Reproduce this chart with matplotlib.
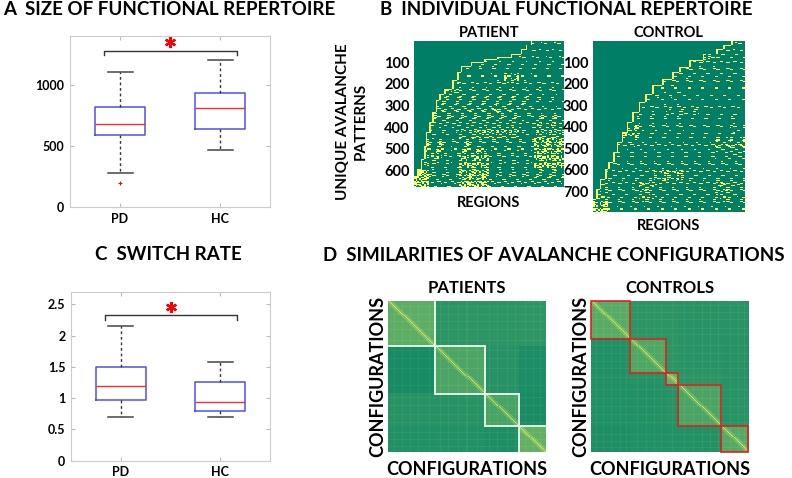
import numpy as np
import matplotlib
matplotlib.use('Agg')
import matplotlib.pyplot as plt
from matplotlib.patches import Rectangle

plt.rcParams['font.family'] = ['Lato', 'DejaVu Sans']
plt.rcParams['font.weight'] = 'bold'

W, H = 792, 478

# ---------------- data ----------------
groups = ['PD', 'HC']

# A: size of functional repertoire (box stats)
rep_med = [678, 809]
rep_q1 = [590, 639]
rep_q3 = [822, 937]
rep_lo = [279, 467]
rep_hi = [1109, 1205]
rep_fliers = [[197], []]

# C: switch rate
sw_med = [1.20, 0.93]
sw_q1 = [0.965, 0.80]
sw_q3 = [1.49, 1.25]
sw_lo = [0.70, 0.70]
sw_hi = [2.15, 1.58]

# B: individual repertoire, row where each region first becomes active (sorted patterns)
n_regions = 90
pat_rows = 677
con_rows = 796
pat_stair_col = [0, 2, 4, 6, 7, 9, 11, 13, 15, 18, 23, 26, 28, 34, 42, 50, 58, 64, 67, 70]
pat_stair_row = [625, 594, 548, 486, 425, 378, 332, 278, 248, 225, 186, 148, 120, 101, 89,
                 78, 63, 40, 21, 0]
con_stair_col = [0, 2, 4, 7, 9, 12, 14, 17, 20, 23, 27, 31, 35, 41, 47, 51, 57, 65, 73, 77, 82]
con_stair_row = [736, 689, 643, 597, 566, 519, 473, 427, 380, 334, 287, 249, 210, 179, 148,
                 125, 94, 63, 40, 25, 0]

# share of active regions below the staircase (rows: 50-pattern bins, cols: 9-region bins)
pat_density = [
    [0, 0, 0, 0, 0, 0, 0, .05, .05, .05],
    [0, 0, 0, .05, .05, .05, .05, .05, .05, .05],
    [0, 0, .07, .07, .08, .08, .07, .07, .07, .07],
    [0, 0, .07, .07, .07, .08, .3, .08, .07, .07],
    [0, .08, .2, .08, .08, .08, .08, .08, .08, .08],
    [0, .15, .15, .15, .15, .15, .15, .15, .08, .08],
    [.08, .15, .15, .15, .15, .22, .15, .1, .08, .08],
    [.08, .15, .15, .15, .15, .15, .15, .08, .2, .2],
    [.08, .08, .08, .2, .32, .32, .32, .08, .28, .28],
    [.22, .22, .08, .22, .1, .1, .1, .1, .38, .38],
    [.28, .28, .11, .28, .38, .11, .11, .11, .42, .42],
    [.22, .11, .11, .38, .38, .11, .11, .11, .42, .42],
    [.6, .11, .11, .38, .38, .11, .11, .11, .16, .16],
    [.5, .11, .11, .48, .48, .11, .11, .11, .11, .11],
]
con_density = [
    [0, 0, 0, 0, 0, 0, 0, 0, .05, .05],
    [0, 0, 0, 0, 0, 0, .06, .24, .06, .06],
    [0, 0, 0, 0, 0, .06, .06, .08, .06, .06],
    [0, 0, 0, 0, .06, .08, .08, .06, .06, .06],
    [0, 0, 0, .07, .08, .1, .07, .07, .07, .07],
    [0, 0, .07, .07, .08, .08, .07, .07, .07, .07],
    [0, 0, .08, .08, .08, .16, .16, .07, .07, .07],
    [0, .08, .08, .08, .08, .08, .07, .07, .07, .08],
    [0, .08, .32, .08, .08, .08, .07, .07, .07, .11],
    [.08, .08, .11, .08, .08, .08, .08, .08, .24, .24],
    [.08, .08, .08, .08, .08, .08, .08, .08, .11, .16],
    [.08, .08, .08, .08, .08, .08, .08, .08, .08, .08],
    [.08, .08, .08, .08, .26, .26, .08, .08, .08, .08],
    [.16, .08, .08, .24, .11, .08, .08, .08, .24, .16],
    [.24, .08, .08, .24, .11, .08, .08, .08, .24, .11],
    [.5, .08, .08, .08, .08, .08, .08, .08, .08, .08],
]

# D: similarity of avalanche configurations (mean level per block, row block x col block)
n_conf = 157
pat_blocks = [0, 47, 96, 130, 157]
pat_block_sim = [[.36, .17, .17, .18],
                 [.09, .30, .15, .11],
                 [.15, .15, .28, .10],
                 [.13, .14, .12, .38]]
pat_stripes = [6, 14, 22, 30, 41, 52, 60, 70, 78, 88, 100, 108, 118, 126, 136, 144, 151]
con_blocks = [0, 39, 75, 87, 130, 157]
con_block_sim = [[.34, .17, .17, .16, .16],
                 [.13, .31, .17, .16, .15],
                 [.14, .15, .38, .17, .15],
                 [.13, .14, .15, .29, .16],
                 [.12, .13, .14, .14, .33]]
con_stripes = [5, 12, 20, 29, 35, 46, 55, 63, 70, 80, 92, 101, 110, 118, 126, 138, 146, 152]
diag_sim = 0.8
near_diag_sim = 0.13

# hand-made 8x8 dither mask (and column shifts per mask row) to show densities as on/off cells
dither = [
    [0, 1, 40, 22, 50, 12, 13, 30],
    [44, 26, 8, 9, 10, 58, 36, 18],
    [16, 54, 34, 62, 4, 5, 24, 46],
    [31, 2, 3, 20, 42, 28, 52, 14],
    [48, 38, 60, 27, 33, 57, 6, 7],
    [23, 15, 37, 11, 45, 19, 41, 55],
    [53, 39, 17, 49, 29, 21, 61, 25],
    [35, 43, 59, 32, 51, 47, 63, 39],
]
dither_shift = [0, 5, 2, 7, 3, 6, 1]


def px(x, y):
    return x / W, 1 - y / H


def add_ax(x0, y0, x1, y1):
    return fig.add_axes([x0 / W, 1 - y1 / H, (x1 - x0) / W, (y1 - y0) / H])


def box_panel(ax, med, q1, q3, lo, hi, fliers, ylim, yticks, br_y, br_h, star_y):
    stats = []
    for i in range(2):
        stats.append(dict(med=med[i], q1=q1[i], q3=q3[i], whislo=lo[i], whishi=hi[i],
                          fliers=fliers[i]))
    ax.bxp(stats, positions=[1, 2], widths=0.5, showfliers=True,
           boxprops=dict(color='#4f4ff0', lw=1.1),
           medianprops=dict(color='#f03030', lw=1.0),
           whiskerprops=dict(color='#333333', lw=1.0, linestyle=(0, (2, 2))),
           capprops=dict(color='#444444', lw=1.1),
           flierprops=dict(marker='+', markeredgecolor='red', markersize=3, mew=0.8))
    ax.set_xlim(0.5, 2.5)
    ax.set_ylim(ylim)
    ax.set_yticks(yticks)
    ax.set_xticks([1, 2])
    ax.set_xticklabels(groups)
    ax.tick_params(direction='in', top=True, right=True, length=3, color='#bbbbbb',
                   labelsize=9, pad=4)
    for s in ax.spines.values():
        s.set_color('#cccccc')
    ax.plot([0.84, 0.84, 2.17, 2.17], [br_y - br_h, br_y, br_y, br_y - br_h],
            color='#333333', lw=1.0)
    ax.plot([1.5], [star_y], marker=(6, 2, 0), color='red', markersize=8, mew=1.6)


fig = plt.figure(figsize=(W / 100, H / 100), dpi=100)

# ---------------- A ----------------
axA = add_ax(70, 36, 270, 207)
box_panel(axA, rep_med, rep_q1, rep_q3, rep_lo, rep_hi, rep_fliers,
          (0, 1400), [0, 500, 1000], 1281, 35, 1350)
fig.text(*px(3, 15), 'A  SIZE OF FUNCTIONAL REPERTOIRE', fontsize=13.5, va='baseline')

# ---------------- C ----------------
axC = add_ax(71, 291.7, 270, 460.7)
box_panel(axC, sw_med, sw_q1, sw_q3, sw_lo, sw_hi, [[], []],
          (0, 2.7), [0, 0.5, 1, 1.5, 2, 2.5], 2.32, 0.065, 2.45)
axC.set_yticklabels(['0', '0.5', '1', '1.5', '2', '2.5'])
fig.text(*px(168, 260), 'C  SWITCH RATE', fontsize=13.5, va='baseline', ha='center')


# ---------------- B ----------------
def repertoire(n_rows, stair_col, stair_row, density):
    cols = np.arange(n_regions)
    stair = np.array(stair_row)[np.searchsorted(stair_col, cols, side='right') - 1]
    dens = np.repeat(np.repeat(np.array(density), 50, axis=0)[:n_rows], 9, axis=1)
    r = np.arange(n_rows)[:, None]
    c = cols[None, :]
    mask = np.array(dither)
    shift = np.array(dither_shift)[(r // 8) % len(dither_shift)]
    thr = (mask[r % 8, (c + shift) % 8] + 0.5) / 64
    img = ((r >= stair[None, :]) & (dens > thr)).astype(float)
    prev = stair[0]
    for j in cols:
        top = stair[j]
        bot = max(prev, top + 4)
        img[top:min(bot, n_rows), j] = 1
        prev = top
    return img


for (x0, x1, y1, n_rows, sc, sr, dens, ticks, name, reg_y) in [
        (414, 564, 187.3, pat_rows, pat_stair_col, pat_stair_row, pat_density,
         [100, 200, 300, 400, 500, 600], 'PATIENT', 206.7),
        (592.7, 744, 212.3, con_rows, con_stair_col, con_stair_row, con_density,
         [100, 200, 300, 400, 500, 600, 700], 'CONTROL', 230)]:
    ax = add_ax(x0, 40.7, x1, y1)
    img = repertoire(n_rows, sc, sr, dens)
    ax.imshow(img, cmap='summer', vmin=0, vmax=1, aspect='auto', interpolation='nearest',
              extent=[0.5, n_regions + 0.5, n_rows + 0.5, 0.5])
    ax.set_xticks([])
    ax.set_yticks(ticks)
    ax.tick_params(axis='y', length=0, labelsize=10.5, pad=3)
    for s in ax.spines.values():
        s.set_visible(False)
    cx = (x0 + x1) / 2
    fig.text(*px(cx, 36.7), name, fontsize=10.5, ha='center', va='baseline')
    fig.text(*px(cx, reg_y), 'REGIONS', fontsize=10.5, ha='center', va='baseline')

fig.text(*px(380, 15), 'B  INDIVIDUAL FUNCTIONAL REPERTOIRE', fontsize=13.5, va='baseline')
fig.text(*px(343, 121.7), 'UNIQUE AVALANCHE', fontsize=11, rotation=90,
         ha='center', va='center')
fig.text(*px(361, 121.7), 'PATTERNS', fontsize=11, rotation=90, ha='center', va='center')


# ---------------- D ----------------
def similarity(blocks, block_sim, stripes):
    m = np.zeros((n_conf, n_conf))
    nb = len(blocks) - 1
    for i in range(nb):
        for j in range(nb):
            m[blocks[i]:blocks[i + 1], blocks[j]:blocks[j + 1]] = block_sim[i][j]
    m[stripes, :] += 0.05
    m[:, stripes] += 0.05
    for i in range(nb):
        b0, b1 = blocks[i], blocks[i + 1]
        sub = m[b0:b1, b0:b1]
        for k in (-3, -2, -1, 1, 2, 3):
            idx = np.arange(max(0, -k), min(b1 - b0, b1 - b0 - k))
            sub[idx, idx + k] += near_diag_sim
    np.fill_diagonal(m, diag_sim)
    return m


for (x0, x1, name, blocks, bsim, stripes, ecol, outer) in [
        (388.3, 545.7, 'PATIENTS', pat_blocks, pat_block_sim, pat_stripes, '#eefaf0', False),
        (591, 748.3, 'CONTROLS', con_blocks, con_block_sim, con_stripes, '#e02020', True)]:
    ax = add_ax(x0, 301, x1, 452.3)
    m = similarity(blocks, bsim, stripes)
    ax.imshow(m, cmap='summer', vmin=0, vmax=1, aspect='auto', interpolation='nearest',
              extent=[0, n_conf, n_conf, 0])
    for i in range(len(blocks) - 1):
        b0, b1 = blocks[i], blocks[i + 1]
        if outer:
            ax.add_patch(Rectangle((b0, b0), b1 - b0, b1 - b0, fill=False,
                                   edgecolor=ecol, lw=1.2, clip_on=False))
        else:
            # only the inner edges of each community are outlined
            for e in (b0, b1):
                if 0 < e < n_conf:
                    ax.plot([b0, b1], [e, e], color=ecol, lw=1.3)
                    ax.plot([e, e], [b0, b1], color=ecol, lw=1.3)
    ax.set_xlim(0, n_conf)
    ax.set_ylim(n_conf, 0)
    ax.set_xticks([])
    ax.set_yticks([])
    for s in ax.spines.values():
        s.set_visible(False)
    cx = (x0 + x1) / 2
    fig.text(*px(cx, 292.7), name, fontsize=12, ha='center', va='baseline')
    fig.text(*px(cx, 475), 'CONFIGURATIONS', fontsize=13, ha='center', va='baseline')
    fig.text(*px(x0 - 10.5, 376.7), 'CONFIGURATIONS', fontsize=13, rotation=90,
             ha='center', va='center')

fig.text(*px(323, 261), 'D  SIMILARITIES OF AVALANCHE CONFIGURATIONS', fontsize=13.5,
         va='baseline')

fig.savefig('out.png', dpi=100)
